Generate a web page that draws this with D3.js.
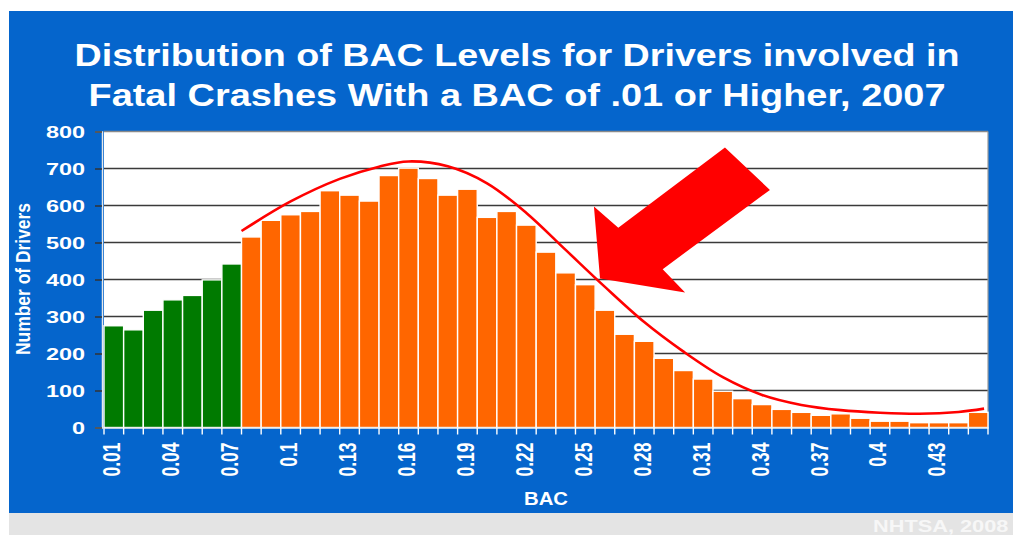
<!DOCTYPE html>
<html>
<head>
<meta charset="utf-8">
<script src="https://cdn.jsdelivr.net/npm/d3@7"></script>
<style>
  html, body { margin: 0; padding: 0; background: #ffffff; }
  svg { display: block; font-family: "Liberation Sans", Arial, sans-serif; }
</style>
</head>
<body>
<div id="chart"></div>
<script>
// BAC categories (one bar each)
const bacLevels = ["0.01","0.02","0.03","0.04","0.05","0.06","0.07","0.08","0.09","0.1",
    "0.11","0.12","0.13","0.14","0.15","0.16","0.17","0.18","0.19","0.2",
    "0.21","0.22","0.23","0.24","0.25","0.26","0.27","0.28","0.29","0.3",
    "0.31","0.32","0.33","0.34","0.35","0.36","0.37","0.38","0.39","0.4",
    "0.41","0.42","0.43","0.44","0.45"];

// number of drivers at each BAC level
const drivers = [275, 264, 317, 345, 357, 399, 442, 515, 560, 575,
    584, 640, 628, 612, 681, 701, 673, 628, 644, 568,
    584, 547, 474, 418, 386, 317, 252, 233, 187, 154,
    131, 98, 78, 62, 49, 41, 33, 37, 25, 17,
    17, 13, 13, 13, 41];

const tickLabels = ["0.01","0.04","0.07","0.1","0.13","0.16","0.19","0.22","0.25","0.28","0.31","0.34","0.37","0.4","0.43"];
const yTicks = [0, 100, 200, 300, 400, 500, 600, 700, 800];

// fitted trend line (BAC, drivers)
const trendBac = [0.075, 0.10, 0.125, 0.145, 0.16, 0.18, 0.20, 0.22, 0.24, 0.26, 0.28, 0.30, 0.32, 0.34, 0.36, 0.38, 0.40, 0.42, 0.44, 0.453];
const trendVal = [531, 611, 672, 705, 719, 706, 660, 580, 480, 380, 285, 205, 136, 88, 61, 47, 40, 37, 42, 51];

// big red arrow (BAC, drivers)
const arrowBac = [0.3211, 0.344, 0.2894, 0.3008, 0.2575, 0.2544, 0.2668];
const arrowVal = [757, 642, 428, 365, 403, 597, 540];

const legalLimit = 0.08;

const W = 1013, H = 535;
const plot = { left: 104, right: 988, top: 131.5, bottom: 427.5 };

const svg = d3.select("#chart")
    .append("svg")
    .attr("width", W)
    .attr("height", H);

// background panels
svg.append("rect").attr("x", 9).attr("y", 11).attr("width", W - 9).attr("height", 502).attr("fill", "#0565cc");
svg.append("rect").attr("x", 9).attr("y", 513).attr("width", W - 9).attr("height", H - 513).attr("fill", "#e4e4e4");
svg.append("text")
    .attr("transform", "translate(873,532) scale(1.28,1)")
    .attr("fill", "#f7f7f7")
    .style("font-size", "17px")
    .style("font-weight", "bold")
    .text("NHTSA, 2008");

const x = d3.scaleBand()
    .domain(bacLevels)
    .range([plot.left, plot.right])
    .padding(0);

const xLin = d3.scaleLinear()
    .domain([0.005, 0.455])
    .range([plot.left, plot.right]);

const y = d3.scaleLinear()
    .domain([0, 800])
    .range([plot.bottom, plot.top]);

// plot background
svg.append("rect")
    .attr("x", plot.left).attr("y", plot.top)
    .attr("width", plot.right - plot.left)
    .attr("height", plot.bottom - plot.top)
    .attr("fill", "#ffffff");

// gridlines
svg.append("g")
    .selectAll("line")
    .data(yTicks.filter(d => d > 0))
    .enter()
    .append("line")
    .attr("x1", plot.left)
    .attr("x2", plot.right)
    .attr("y1", d => y(d))
    .attr("y2", d => y(d))
    .attr("stroke", d => d === 800 ? "#8a8a8a" : "#3a3a3a")
    .attr("stroke-width", 1.6);

svg.append("line")
    .attr("x1", plot.right).attr("x2", plot.right)
    .attr("y1", plot.top).attr("y2", plot.bottom)
    .attr("stroke", "#9a9a9a").attr("stroke-width", 1.2);

// bars
svg.append("g")
    .selectAll("rect")
    .data(bacLevels.map((b, i) => ({ bac: b, value: drivers[i] })))
    .enter()
    .append("rect")
    .attr("x", d => x(d.bac))
    .attr("y", d => y(d.value))
    .attr("width", x.bandwidth())
    .attr("height", d => y(0) - y(d.value))
    .attr("fill", d => +d.bac < legalLimit ? "#007a00" : "#ff6600")
    .attr("stroke", "#ffffff")
    .attr("stroke-width", 1.4);

// y axis
const yAxis = svg.append("g")
    .attr("transform", `translate(${plot.left - 2},0)`)
    .call(d3.axisLeft(y).tickValues(yTicks).tickSize(7).tickPadding(10));
yAxis.select(".domain").attr("stroke", "#e8e8e8").attr("stroke-width", 1.5);
yAxis.selectAll(".tick line").attr("stroke", "#333333").attr("stroke-width", 1.5);
yAxis.selectAll(".tick text")
    .attr("fill", "#ffffff")
    .style("font-size", "17px")
    .style("font-weight", "bold")
    .attr("x", 0)
    .attr("dy", "0.36em")
    .attr("text-anchor", "end")
    .attr("transform", "translate(-17,0) scale(1.38,1)");

// x axis
const xAxis = svg.append("g")
    .attr("transform", `translate(0,${plot.bottom})`)
    .call(d3.axisBottom(x).tickSize(0).tickFormat(""));
xAxis.select(".domain").attr("stroke", "#e8e8e8").attr("stroke-width", 1.5);

svg.append("g")
    .selectAll("line")
    .data(bacLevels.concat(["end"]))
    .enter()
    .append("line")
    .attr("x1", (d, i) => i < bacLevels.length ? x(d) : plot.right)
    .attr("x2", (d, i) => i < bacLevels.length ? x(d) : plot.right)
    .attr("y1", plot.bottom)
    .attr("y2", plot.bottom + 7)
    .attr("stroke", "#ffffff")
    .attr("stroke-width", 1.4);

svg.append("g")
    .selectAll("text")
    .data(tickLabels)
    .enter()
    .append("text")
    .attr("transform", d => `translate(${x(d) + x.bandwidth() / 2 + 6.5},${plot.bottom + 15}) scale(1.35,1) rotate(-90)`)
    .attr("text-anchor", "end")
    .attr("fill", "#ffffff")
    .style("font-size", "17.5px")
    .style("font-weight", "bold")
    .text(d => d);

// axis titles
svg.append("text")
    .attr("x", 546).attr("y", 505)
    .attr("text-anchor", "middle")
    .attr("fill", "#ffffff")
    .style("font-size", "18px")
    .style("font-weight", "bold")
    .attr("textLength", 44)
    .attr("lengthAdjust", "spacingAndGlyphs")
    .text("BAC");

svg.append("text")
    .attr("transform", "translate(30,279) rotate(-90) scale(1,1.3)")
    .attr("text-anchor", "middle")
    .attr("fill", "#ffffff")
    .style("font-size", "15px")
    .style("font-weight", "bold")
    .attr("textLength", 152)
    .attr("lengthAdjust", "spacingAndGlyphs")
    .text("Number of Drivers");

// title
const titleLines = [
    { text: "Distribution of BAC Levels for Drivers involved in", y: 66, len: 885 },
    { text: "Fatal Crashes With a BAC of .01 or Higher, 2007", y: 106, len: 857 }
];
svg.append("g")
    .selectAll("text")
    .data(titleLines)
    .enter()
    .append("text")
    .attr("x", 517)
    .attr("y", d => d.y)
    .attr("text-anchor", "middle")
    .attr("fill", "#ffffff")
    .style("font-size", "32px")
    .style("font-weight", "bold")
    .attr("textLength", d => d.len)
    .attr("lengthAdjust", "spacingAndGlyphs")
    .text(d => d.text);

// trend line
const line = d3.line()
    .x(d => xLin(d[0]))
    .y(d => y(d[1]))
    .curve(d3.curveCatmullRom.alpha(0.5));

svg.append("path")
    .datum(trendBac.map((b, i) => [b, trendVal[i]]))
    .attr("d", line)
    .attr("fill", "none")
    .attr("stroke", "#ff0000")
    .attr("stroke-width", 2.6);

// arrow
svg.append("path")
    .datum(arrowBac.map((b, i) => [b, arrowVal[i]]))
    .attr("d", d3.line().x(d => xLin(d[0])).y(d => y(d[1])).curve(d3.curveLinearClosed))
    .attr("fill", "#ff0000");
</script>
</body>
</html>
